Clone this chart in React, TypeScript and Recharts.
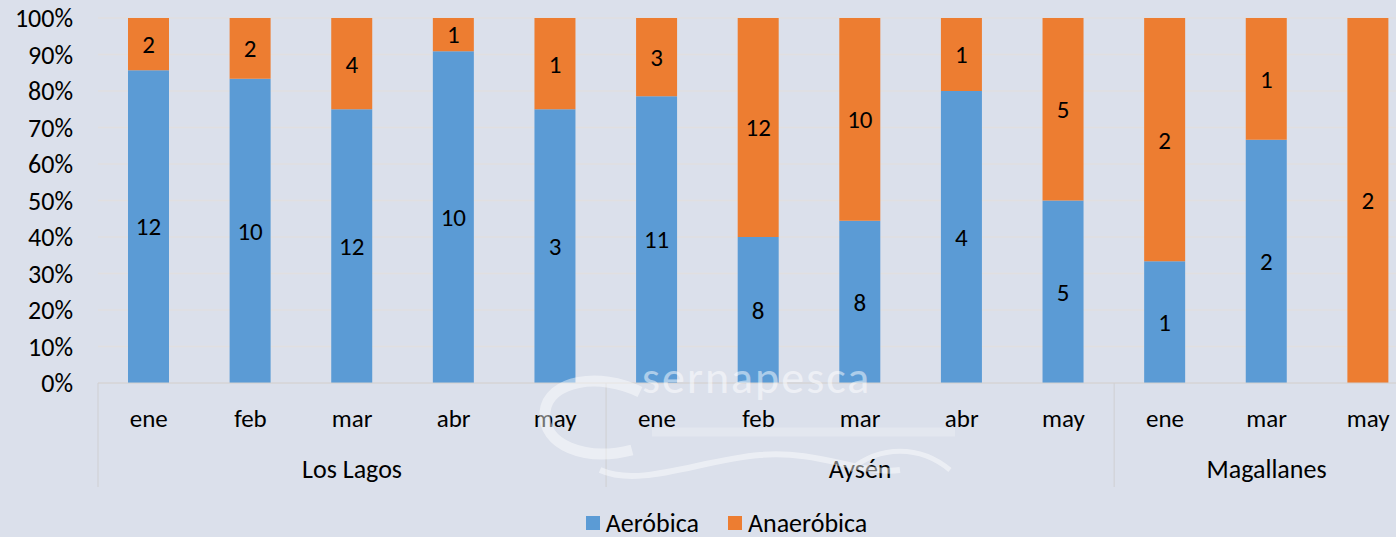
import React from 'react';
import { BarChart, Bar, XAxis, YAxis, CartesianGrid, Legend, LabelList } from 'recharts';

const months = ['ene', 'feb', 'mar', 'abr', 'may', 'ene', 'feb', 'mar', 'abr', 'may', 'ene', 'mar', 'may'];
const regionOf = [
  'Los Lagos', 'Los Lagos', 'Los Lagos', 'Los Lagos', 'Los Lagos',
  'Aysén', 'Aysén', 'Aysén', 'Aysén', 'Aysén',
  'Magallanes', 'Magallanes', 'Magallanes',
];
const aerobica = [12, 10, 12, 10, 3, 11, 8, 8, 4, 5, 1, 2, 0];
const anaerobica = [2, 2, 4, 1, 1, 3, 12, 10, 1, 5, 2, 1, 2];
const yTicks = [0, 0.1, 0.2, 0.3, 0.4, 0.5, 0.6, 0.7, 0.8, 0.9, 1];

const BLUE = '#5B9BD5';
const ORANGE = '#ED7D31';
const BG = '#dbe0eb';
const GRID = '#e1dfe0';
const FONT = 'Carlito, Lato, "Open Sans", sans-serif';

const CHART_W = 1420;
const CHART_H = 537;
const Y_AXIS_W = 98;
const MARGIN_R = 1;
const BAND = (CHART_W - Y_AXIS_W - MARGIN_R) / months.length;

const data = months.map((m, i) => ({
  idx: i,
  month: m,
  region: regionOf[i],
  aer: aerobica[i],
  ana: anaerobica[i],
}));

const MonthTick = (props: any) => {
  const { x, y, payload } = props;
  const i = payload.value as number;
  const region = regionOf[i];
  const first = i === 0 || regionOf[i - 1] !== region;
  const members = regionOf.map((r, k) => (r === region ? k : -1)).filter((k) => k >= 0);
  const mid = members[Math.floor(members.length / 2)];
  return (
    <g>
      <text x={x} y={y + 44} textAnchor="middle" fontSize={25} fill="#000" fontFamily={FONT}>
        {months[i]}
      </text>
      {i === mid && (
        <text x={x} y={y + 95} textAnchor="middle" fontSize={26} fill="#000" fontFamily={FONT}>
          {region}
        </text>
      )}
      {first && <line x1={x - BAND / 2} x2={x - BAND / 2} y1={y} y2={y + 104} stroke="#cfcfd2" />}
    </g>
  );
};

const LegendContent = () => (
  <div
    style={{
      height: 40,
      paddingTop: 11,
      boxSizing: 'border-box',
      display: 'flex',
      justifyContent: 'center',
      gap: 29,
      fontFamily: FONT,
      fontSize: 26,
      lineHeight: '26px',
      color: '#000',
      marginLeft: 34,
    }}
  >
    {[
      { name: 'Aeróbica', color: BLUE },
      { name: 'Anaeróbica', color: ORANGE },
    ].map((it) => (
      <span key={it.name} style={{ display: 'flex', alignItems: 'center' }}>
        <span style={{ width: 14, height: 14, background: it.color, marginRight: 6, display: 'inline-block' }} />
        {it.name}
      </span>
    ))}
  </div>
);

// faint sernapesca logo that sits over the lower part of the chart
const Watermark = () => (
  <svg width={1396} height={537} style={{ position: 'absolute', left: 0, top: 0, pointerEvents: 'none' }}>
    <g opacity={0.45} fill="none" stroke="#ffffff">
      <path d="M 640 392 C 600 372, 548 380, 545 412 C 542 445, 585 462, 632 450" strokeWidth={11} />
      <path d="M 600 470 C 640 488, 700 460, 760 455 C 820 450, 860 475, 900 470" strokeWidth={6} />
      <path d="M 850 470 C 880 445, 920 445, 950 470" strokeWidth={5} />
      <path d="M 652 432 L 955 432" strokeWidth={9} opacity={0.5} />
    </g>
    <text x={642} y={393} fontSize={46} fill="#ffffff" opacity={0.5} fontFamily={FONT} letterSpacing={2}>
      sernapesca
    </text>
  </svg>
);

export default function App() {
  return (
    <div
      style={{
        position: 'absolute',
        left: 0,
        top: 0,
        width: 1396,
        height: 537,
        overflow: 'hidden',
        background: BG,
      }}
    >
      <BarChart
        width={CHART_W}
        height={CHART_H}
        data={data}
        stackOffset="expand"
        margin={{ top: 18, right: MARGIN_R, bottom: 0, left: 0 }}
      >
        <CartesianGrid vertical={false} stroke={GRID} strokeWidth={1.5} />
        <XAxis
          dataKey="idx"
          type="category"
          interval={0}
          height={114}
          tickLine={false}
          tickSize={0}
          tickMargin={0}
          axisLine={{ stroke: '#cfcfd2' }}
          tick={<MonthTick />}
        />
        <YAxis
          width={Y_AXIS_W}
          domain={[0, 1]}
          ticks={yTicks}
          axisLine={false}
          tickLine={false}
          tickMargin={19}
          tickFormatter={(v: number) => `${Math.round(v * 100)}%`}
          tick={{ fontSize: 26, fill: '#000', fontFamily: FONT }}
        />
        <Legend verticalAlign="bottom" height={40} content={<LegendContent />} />
        <Bar dataKey="aer" name="Aeróbica" stackId="a" fill={BLUE} barSize={41} isAnimationActive={false}>
          <LabelList
            dataKey="aer"
            position="center"
            fill="#000"
            fontSize={25}
            fontFamily={FONT}
            formatter={(v: any) => (v ? v : '')}
          />
        </Bar>
        <Bar dataKey="ana" name="Anaeróbica" stackId="a" fill={ORANGE} barSize={41} isAnimationActive={false}>
          <LabelList
            dataKey="ana"
            position="center"
            fill="#000"
            fontSize={25}
            fontFamily={FONT}
            formatter={(v: any) => (v ? v : '')}
          />
        </Bar>
      </BarChart>
      <Watermark />
    </div>
  );
}
